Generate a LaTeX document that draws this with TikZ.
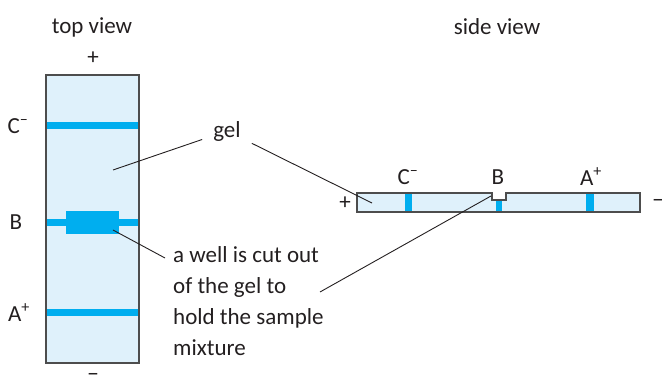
\documentclass[tikz,border=0pt]{standalone}
\usepackage{fontspec}
\setmainfont{Carlito}
\definecolor{gelfill}{HTML}{DFF1FB}
\definecolor{banda}{HTML}{00AEEF}
\definecolor{borde}{HTML}{4D4D4D}
\definecolor{tinta}{HTML}{231F20}

\begin{document}
\begin{tikzpicture}[x=1pt,y=-1pt,
   rotulo/.style={text=tinta,font=\fontsize{23}{31}\selectfont,inner sep=0pt},
   gelbox/.style={fill=gelfill},
   marco/.style={draw=borde,line width=1.2pt},
   band/.style={fill=banda},
   guia/.style={draw=tinta,line width=0.9pt}]
  \useasboundingbox (0,0) rectangle (662,379);

  % --- vista superior ---
  \node[rotulo] (top) at (92,27) {top view};
  \node[rotulo] (mas) at (93,58) {+};
  \fill[gelbox] (46,75) rectangle (139,363);
  \fill[band] (46,122.5) rectangle (139,129.5);
  \fill[band] (46,219) rectangle (139,226);
  \fill[band] (46,309.5) rectangle (139,316.5);
  \node[band,minimum width=53pt,minimum height=23pt,inner sep=0pt] (pozo) at (92.5,222.5) {};
  \draw[marco] (46,75) rectangle (139,363);
  \node[rotulo] (menos) at (93,377) {−};
  \node[rotulo] (cmenos) at (18,126) {C\textsuperscript{–}};
  \node[rotulo] (b) at (16,222) {B};
  \node[rotulo] (amas) at (19,313) {A\textsuperscript{+}};

  % --- vista lateral ---
  \node[rotulo] (side) at (497,27) {side view};
  \fill[gelbox] (357,193) -- (492,193) -- (492,200) -- (506,200) -- (506,193)
     -- (640,193) -- (640,212) -- (357,212) -- cycle;
  \fill[band] (405,193) rectangle (412,212);
  \fill[band] (496,200) rectangle (502,212);
  \fill[band] (586,193) rectangle (594,212);
  \draw[marco] (357,193) -- (492,193) -- (492,200) -- (506,200) -- (506,193)
     -- (640,193) -- (640,212) -- (357,212) -- cycle;
  \node[rotulo] (lmas) at (345,203) {+};
  \node[rotulo] (lmenos) at (658,203) {−};
  \node[rotulo] (lc) at (408,177) {C\textsuperscript{–}};
  \node[rotulo] (lb) at (498,177) {B};
  \node[rotulo] (la) at (591,177) {A\textsuperscript{+}};

  % --- rotulos con guias ---
  \node[rotulo,inner sep=11pt] (gel) at (227,131) {gel};
  \coordinate (gelA) at (113,170);
  \coordinate (gelB) at (372,203);
  \draw[guia] (gel) -- (gelA);
  \draw[guia] (gel) -- (gelB);

  \node[rotulo,align=left,anchor=north west] (texto) at (173,246)
    {a well is cut out\\of the gel to\\hold the sample\\mixture};
  \coordinate (pozoA) at (113,230);
  \coordinate (textoA) at (165,258);
  \coordinate (textoB) at (320,292);
  \coordinate (muesca) at (491,196);
  \draw[guia] (pozoA) -- (textoA);
  \draw[guia] (textoB) -- (muesca);
\end{tikzpicture}
\end{document}
